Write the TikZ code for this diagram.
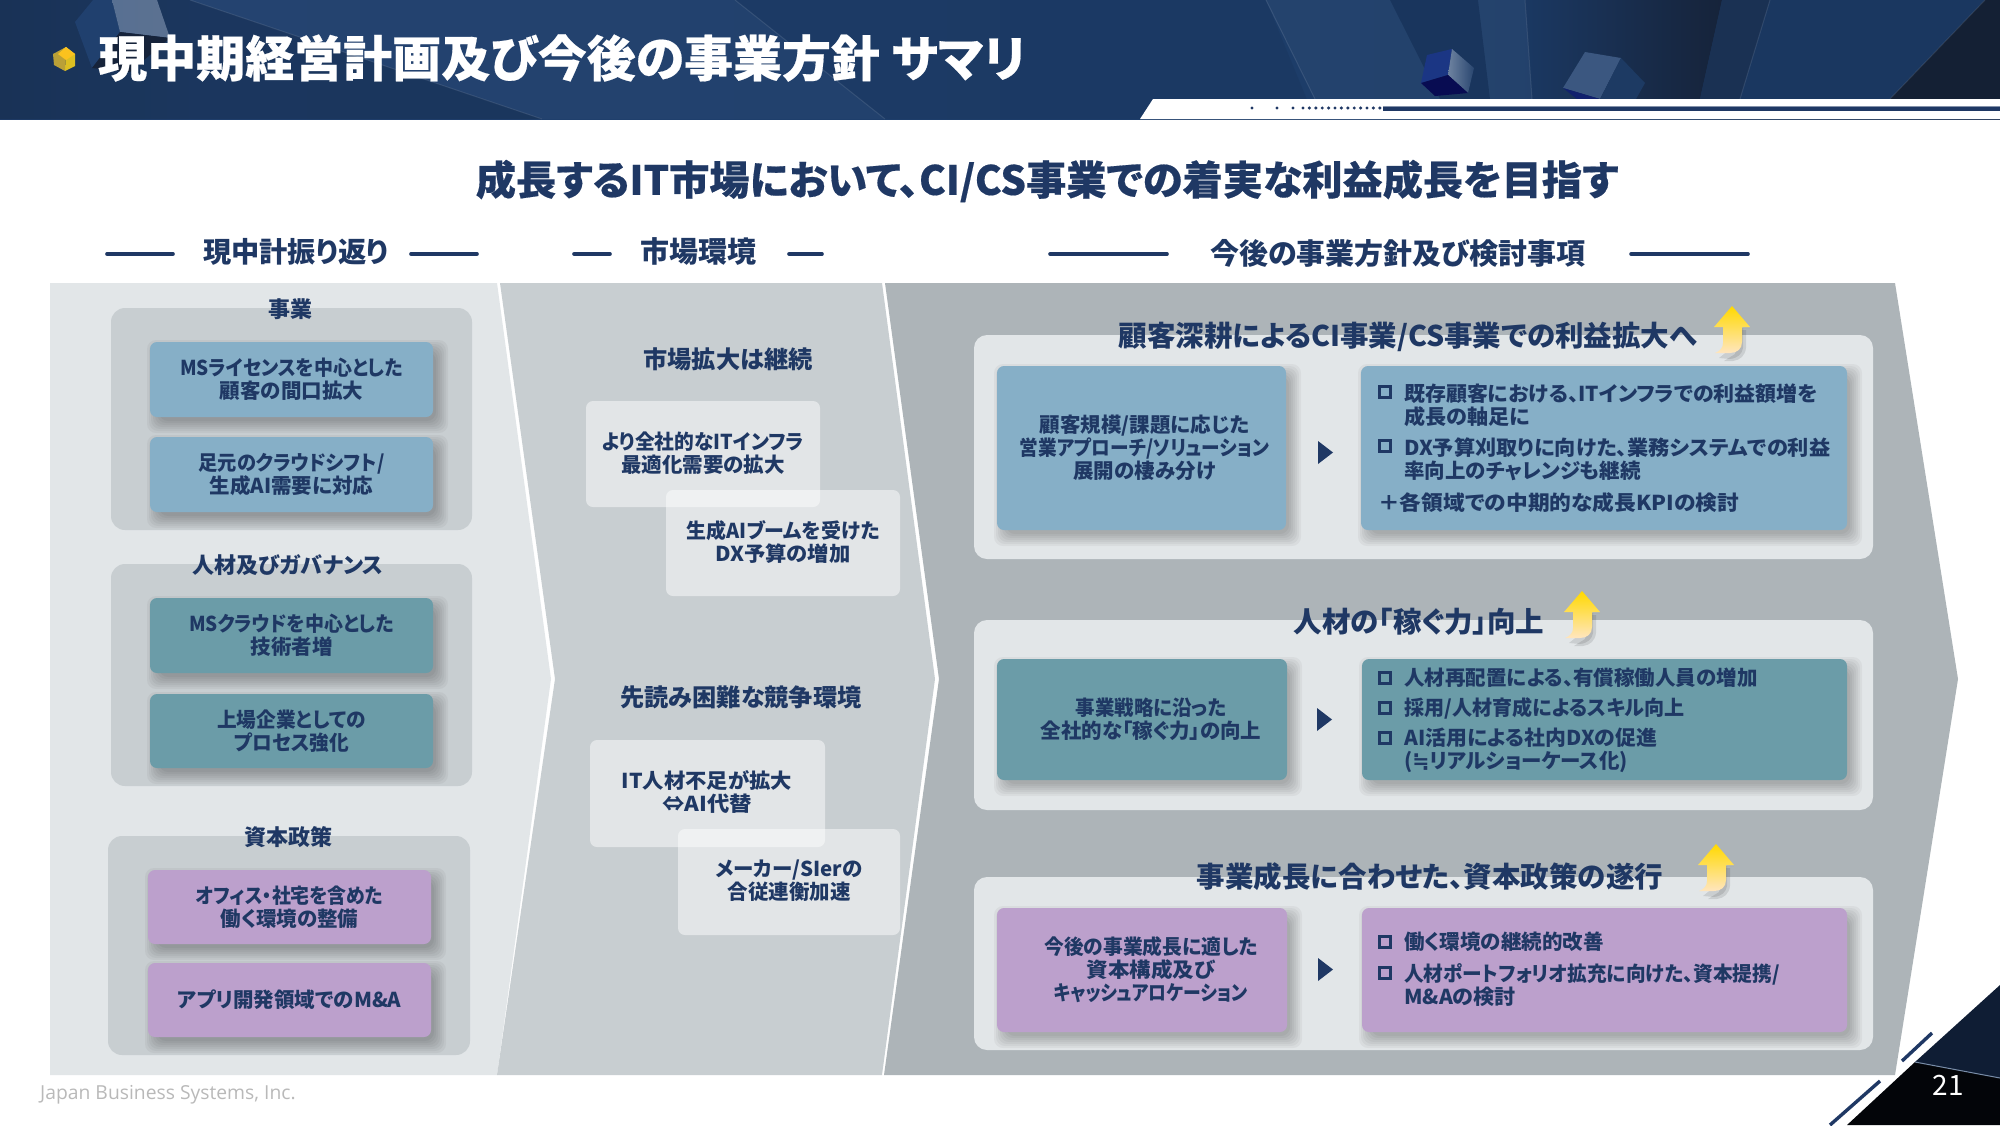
\documentclass[tikz,border=0pt]{standalone}
\usepackage{graphicx}
\usepackage{fontspec}
\setmainfont{Noto Sans CJK JP}[RawFeature={+palt}]
\newfontfamily\footfont{Open Sans}
\newfontfamily\symfont{DejaVu Sans}
\newfontfamily\titlefont{Noto Sans CJK JP}[RawFeature={+palt},BoldFeatures={FakeBold=0.4}]
\usetikzlibrary{calc,shapes.geometric}
\newcommand\hs[2]{\scalebox{#1}[1]{#2}}
\definecolor{navy}{HTML}{1F3864}
\definecolor{panelA}{HTML}{E2E6E8}
\definecolor{panelB}{HTML}{C8CED1}
\definecolor{panelC}{HTML}{ADB4B8}
\definecolor{bluebox}{HTML}{86AFC7}
\definecolor{tealbox}{HTML}{6B9CA8}
\definecolor{purplebox}{HTML}{BCA0CC}
\definecolor{HTMLa}{HTML}{16233A}
\definecolor{HTMLb}{HTML}{1A3153}
\definecolor{HTMLc}{HTML}{20406E}
\definecolor{HTMLd}{HTML}{1C3C68}
\definecolor{HTMLe}{HTML}{15294A}
\definecolor{HTMLf}{HTML}{183558}
\pgfdeclarehorizontalshading{headbg}{100bp}{
 color(0bp)=(HTMLa);color(15bp)=(HTMLb);color(30bp)=(HTMLc);color(62bp)=(HTMLd);color(76bp)=(HTMLe);color(100bp)=(HTMLf)}
\tikzset{
 boxnode/.style={inner sep=0pt,outer sep=0pt,rectangle},
 groupbox/.style={boxnode,fill=panelB,rounded corners=14pt},
 innerbox/.style={boxnode,rounded corners=7pt},
 cardbox/.style={boxnode,fill=panelA,rounded corners=13pt},
 glassbox/.style={boxnode,fill=white,fill opacity=.48,rounded corners=7pt},
 txt/.style={text=navy,font=\bfseries\fontsize{20.5}{23}\selectfont,align=center,inner sep=0pt},
 rowtxt/.style={txt,align=left,anchor=west},
 head/.style={text=navy,font=\bfseries\fontsize{28.2}{30}\selectfont,inner sep=0pt},
 headb/.style={text=navy,font=\bfseries\fontsize{29}{30}\selectfont,inner sep=0pt},
 cardtitle/.style={text=navy,font=\bfseries\fontsize{28.5}{30}\selectfont,inner sep=0pt},
 sublabel/.style={text=navy,font=\bfseries\fontsize{22}{26}\selectfont,inner sep=0pt},
 midtitle/.style={text=navy,font=\bfseries\fontsize{24.2}{28}\selectfont,inner sep=0pt},
 tick/.style={draw=navy,line width=2.8pt,fill=none,rectangle,minimum size=11.5pt,inner sep=0pt},
 headrule/.style={navy,line width=3.6pt,line cap=round},
}
\newcommand\softsh[4]{%
 \foreach \k in {-3,-1,1,3,5,7,9}{\fill[black,opacity=.038,rounded corners=9pt]
  ({#1+6-\k},{#2+7-\k}) rectangle ({#3+6+\k},{#4+7+\k});}}
\newcommand\rbox[6]{%
 \pgfmathsetmacro\bw{#4-#2}\pgfmathsetmacro\bh{#5-#3}%
 \node[#6,minimum width=\bw pt,minimum height=\bh pt] (#1) at ({(#2+#4)/2},{(#3+#5)/2}) {};}
\newcommand\shbox[6]{\softsh{#2}{#3}{#4}{#5}\rbox{#1}{#2}{#3}{#4}{#5}{innerbox,fill=#6}}
\newcommand\bigup[3]{% name, tip x, tip y
 \begin{scope}[shift={(#2,#3)}]
  \fill[black,opacity=.10] (6,22) -- (18,22) -- (11,22) -- (11,42) .. controls (10,48) and (6,52) .. (-2,53) -- (-13,52) -- (-3,44) -- (-3,26) -- cycle;
  \fill[black,opacity=.10] (9,24) -- (14,24) -- (14,42) .. controls (13,50) and (8,54) .. (1,55) -- (-8,55) -- (3,48) -- cycle;
  \shade[top color=yellow!70!orange,middle color=yellow!45!orange!80!white,bottom color=yellow!20!orange!25!white]
   (0,0) -- (18,21) -- (10,21) -- (10,36) .. controls (10,43) and (5,47) .. (-2,47) -- (-17,47) .. controls (-12,45) and (-9,42) .. (-9,37) -- (-9,21) -- (-18,21) -- cycle;
 \end{scope}}
\begin{document}
\begin{tikzpicture}[x=1pt,y=-1pt]
\useasboundingbox (0,0) rectangle (2000,1125);
\fill[white] (0,0) rectangle (2000,1125);
%% header
\shade[shading=headbg] (0,0) rectangle (2000,119);
\fill[black,opacity=.14] (0,0) -- (190,0) -- (542,119) -- (0,119) -- cycle;
\fill[white,opacity=.02] (190,0) -- (735,0) -- (885,119) -- (542,119) -- cycle;
\fill[black,opacity=.05] (735,0) -- (1266,0) -- (1315,119) -- (885,119) -- cycle;
\fill[white,opacity=.03] (1266,0) -- (1390,0) -- (1440,99) -- (1315,99) -- cycle;
\fill[black,opacity=.10] (1390,0) -- (1478,0) -- (1490,99) -- (1440,99) -- cycle;
\fill[white,opacity=.04] (1478,0) -- (1525,0) -- (1532,99) -- (1490,99) -- cycle;
\shade[left color=HTMLd!80!HTMLe,right color=HTMLa] (1525,0) -- (1722,0) -- (1700,99) -- (1532,99) -- cycle;
\fill[HTMLb] (1722,0) -- (1770,0) -- (1740,99) -- (1700,99) -- cycle;
\fill[HTMLd!92!black] (1770,0) -- (1985,0) -- (1890,99) -- (1740,99) -- cycle;
\fill[HTMLa!90!black] (1985,0) -- (2000,0) -- (2000,99) -- (1890,99) -- cycle;
\draw[white,opacity=.10,line width=1pt] (190,0) -- (542,119) (735,0) -- (885,119) (1266,0) -- (1315,99) (1770,0) -- (1740,99) (1985,0) -- (1890,99) (1525,0) -- (1532,99);
% cubes
\fill[HTMLc] (75,22) -- (93,0) -- (112,0) -- (120,32) -- (92,68) -- cycle;
\shade[left color=white!25!HTMLc,right color=white!25!HTMLc!90!gray] (112,0) -- (157,0) -- (170,38) -- (120,32) -- cycle;
\fill[HTMLa] (120,32) -- (170,38) -- (130,72) -- (92,68) -- cycle;
\fill[HTMLc!85!blue] (1427,55) -- (1452,49) -- (1448,75) -- (1421,83) -- cycle;
\shade[left color=white!35!HTMLc,right color=HTMLc!90!gray] (1452,49) -- (1474,68) -- (1468,93) -- (1448,75) -- cycle;
\fill[HTMLa!60!blue!60!black] (1421,83) -- (1448,75) -- (1468,93) -- (1435,96) -- cycle;
\fill[HTMLc!88!white] (1585,52) -- (1621,58) -- (1600,99) -- (1563,88) -- cycle;
\fill[HTMLc!90!black] (1621,58) -- (1645,83) -- (1636,99) -- (1600,99) -- cycle;
\fill[HTMLe!80!blue] (1563,88) -- (1600,99) -- (1577,99) -- cycle;
% title bullet
\fill[yellow!75!orange!85!black] (66,47) -- (75,54) -- (75,66) -- (65,71) -- cycle;
\fill[yellow!65!orange!70!black] (66,47) -- (65,71) -- (54,65) -- (53,54) -- cycle;
\fill[yellow!50!orange!90!white] (66,47) -- (75,54) -- (66,60) -- (58,54) -- cycle;
\node[text=white,font=\titlefont\bfseries\fontsize{49}{54}\selectfont,inner sep=0pt,anchor=west] (title) at (98,58) {現中期経営計画及び今後の事業方針 サマリ};
% white strip
\fill[white] (1153,99) -- (2000,99) -- (2000,119) -- (1140,119) -- cycle;
\foreach \d in {1252,1277,1293,1303,1309.4,1315.8,1322.2,1328.6,1335,1341.4,1347.8,1354.2,1360.6,1367,1373.4,1379.8}{\fill[navy] (\d,108) circle (1.7pt);}
\fill[navy!55!white] (1383,105.5) rectangle (2000,107.5);
\fill[navy] (1383,107) rectangle (2000,110.5);
%% subtitle + headings
\node[text=navy,font=\titlefont\bfseries\fontsize{40.2}{44}\selectfont,inner sep=0pt] (subtitle) at (1047,181) {成長するIT市場において、CI/CS事業での着実な利益成長を目指す};
\node[head] (h1) at (296,252) {現中計振り返り};
\node[headb] (h2) at (698,251) {市場環境};
\node[headb] (h3) at (1398,253) {今後の事業方針及び検討事項};
\coordinate (l1a) at (107,254);\coordinate (l1b) at (173,254);
\coordinate (l2a) at (411,254);\coordinate (l2b) at (477,254);
\coordinate (l3a) at (574,254);\coordinate (l3b) at (610,254);
\coordinate (l4a) at (789,254);\coordinate (l4b) at (822,254);
\coordinate (l5a) at (1050,254);\coordinate (l5b) at (1167,254);
\coordinate (l6a) at (1631,254);\coordinate (l6b) at (1748,254);
\draw[headrule] (l1a) -- (l1b);\draw[headrule] (l2a) -- (l2b);
\draw[headrule] (l3a) -- (l3b);\draw[headrule] (l4a) -- (l4b);
\draw[headrule] (l5a) -- (l5b);\draw[headrule] (l6a) -- (l6b);
%% chevrons
\fill[panelA] (50,283) -- (497,283) -- (551,679) -- (497,1075) -- (50,1075) -- cycle;
\fill[panelB] (500,283) -- (882,283) -- (935,679) -- (882,1075) -- (497,1075) -- (555,679) -- cycle;
\fill[panelC] (885,283) -- (1895,283) -- (1958,679) -- (1895,1075) -- (884,1075) -- (939,679) -- cycle;
%% left column
\rbox{g1}{111}{308}{472}{530}{groupbox}
\rbox{g2}{111}{564}{472}{786}{groupbox}
\rbox{g3}{108}{836}{470}{1055}{groupbox}
\shbox{b1}{150}{342}{433}{417}{bluebox}
\shbox{b2}{150}{437}{433}{512}{bluebox}
\shbox{b3}{150}{598}{433}{673}{tealbox}
\shbox{b4}{150}{694}{433}{768}{tealbox}
\shbox{b5}{148}{870}{431}{944}{purplebox}
\shbox{b6}{148}{963}{431}{1037}{purplebox}
\node[sublabel] (gl1) at (290,309) {事業};
\node[sublabel] (gl2) at (288,565) {人材及びガバナンス};
\node[sublabel] (gl3) at (288,837) {資本政策};
\node[txt] (tb1) at (b1) {\hs{.925}{MSライセンスを中心とした}\\顧客の間口拡大};
\node[txt] (tb2) at (b2) {\hs{.94}{足元のクラウドシフト/}\\生成AI需要に対応};
\node[txt] (tb3) at (b3) {\hs{.925}{MSクラウドを中心とした}\\技術者増};
\node[txt] (tb4) at (b4) {\hs{.96}{上場企業としての}\\\hs{.96}{プロセス強化}};
\node[txt] (tb5) at (b5) {\hs{.92}{オフィス・社宅を含めた}\\働く環境の整備};
\node[txt] (tb6) at (b6) {アプリ開発領域でのM\&A};
%% middle column
\rbox{m1}{586}{401}{820}{507}{glassbox}
\rbox{m2}{666}{490}{900}{596}{glassbox}
\rbox{m3}{590}{740}{825}{847}{glassbox}
\rbox{m4}{678}{829}{900}{935}{glassbox}
\node[midtitle] (mt1) at (728,359) {市場拡大は継続};
\node[midtitle] (mt2) at (741,697) {先読み困難な競争環境};
\node[txt] (tm1) at (703,453) {\hs{.963}{より全社的なITインフラ}\\最適化需要の拡大};
\node[txt] (tm2) at (783,542) {\hs{.975}{生成AIブームを受けた}\\\hs{1.04}{DX予算の増加}};
\node[txt] (tm3) at (707,792) {\hs{1.04}{IT人材不足が拡大}\\\hs{1.09}{⇔AI代替}};
\node[txt] (tm4) at (789,881) {メーカー/SIerの\\合従連衡加速};
%% right column
\rbox{c1}{974}{335}{1873}{559}{cardbox}
\rbox{c2}{974}{620}{1873}{810}{cardbox}
\rbox{c3}{974}{877}{1873}{1050}{cardbox}
\shbox{l1}{997}{366}{1286}{530}{bluebox}
\shbox{r1}{1361}{366}{1847}{530}{bluebox}
\shbox{l2}{997}{659}{1287}{780}{tealbox}
\shbox{r2}{1362}{659}{1847}{780}{tealbox}
\shbox{l3}{997}{908}{1287}{1032}{purplebox}
\shbox{r3}{1362}{908}{1847}{1032}{purplebox}
\node[cardtitle] (ct1) at (1408,337) {顧客深耕によるCI事業/CS事業での利益拡大へ};
\node[cardtitle] (ct2) at (1419,622) {人材の「稼ぐ力」向上};
\node[cardtitle] (ct3) at (1430,877) {事業成長に合わせた、資本政策の遂行};
\bigup{a1}{1732}{306}
\bigup{a2}{1582}{591}
\bigup{a3}{1716}{844}
\fill[navy] (1318,441) -- (1333,452.5) -- (1318,464) -- cycle;
\fill[navy] (1317,708) -- (1332,719.5) -- (1317,731) -- cycle;
\fill[navy] (1318,958) -- (1333,969.5) -- (1318,981) -- cycle;
\node[txt] (tl1) at (1144.5,447.5) {顧客規模/課題に応じた\\\hs{.91}{営業アプローチ/ソリューション}\\展開の棲み分け};
\node[txt] (tl2) at (1151,719.5) {\hs{.95}{事業戦略に沿った}\\全社的な「稼ぐ力」の向上};
\node[txt] (tl3) at (1151,969.5) {\hs{.965}{今後の事業成長に適した}\\\hs{1.05}{資本構成及び}\\\hs{.87}{キャッシュアロケーション}};
\node[tick] (k1) at (1385,392) {};
\node[tick] (k2) at (1385,446) {};
\node[rowtxt] (t11) at (1404,405) {\hs{1.022}{既存顧客における、ITインフラでの利益額増を}\\\hs{1.03}{成長の軸足に}};
\node[rowtxt] (t12) at (1404,459.5) {\hs{1.034}{DX予算刈取りに向けた、業務システムでの利益}\\率向上のチャレンジも継続};
\node[rowtxt] (t13) at (1378,503) {\hs{1.06}{＋各領域での中期的な成長KPIの検討}};
\node[tick] (k3) at (1385,678) {};
\node[tick] (k4) at (1385,708) {};
\node[tick] (k5) at (1385,738) {};
\node[rowtxt] (t21) at (1404,678) {人材再配置による、有償稼働人員の増加};
\node[rowtxt] (t22) at (1404,708) {\hs{.98}{採用/人材育成によるスキル向上}};
\node[rowtxt] (t23) at (1404,750.5) {\hs{1.02}{AI活用による社内DXの促進}\\({\symfont ≒}リアルショーケース化)};
\node[tick] (k6) at (1385,942) {};
\node[tick] (k7) at (1385,973) {};
\node[rowtxt] (t31) at (1404,942) {働く環境の継続的改善};
\node[rowtxt] (t32) at (1404,985) {\hs{.96}{人材ポートフォリオ拡充に向けた、資本提携/}\\\hs{1.03}{M\&Aの検討}};
%% footer + corner
\node[text=gray!55,font=\footfont\fontsize{19.3}{22}\selectfont,inner sep=0pt,anchor=west] (foot) at (40,1095) {Japan Business Systems, Inc.};
\fill[black!85!HTMLa] (2000,1060) -- (2000,1125) -- (1847,1125) -- (1915,1062) -- cycle;
\fill[HTMLe!70!black] (2000,985) -- (2000,1078) -- (1915,1062) -- cycle;
\draw[HTMLc!60!white,line width=1pt] (1915,1062) -- (2000,1078);
\coordinate (s1a) at (1830,1125);\coordinate (s1b) at (1880,1081);
\coordinate (s2a) at (1902,1061);\coordinate (s2b) at (1932,1033);
\draw[navy,line width=3.4pt] (s1a) -- (s1b);
\draw[navy,line width=3.4pt] (s2a) -- (s2b);
\node[text=white,font=\fontsize{28}{30}\selectfont,inner sep=0pt] (page) at (1948,1085) {21};
\end{tikzpicture}
\end{document}
